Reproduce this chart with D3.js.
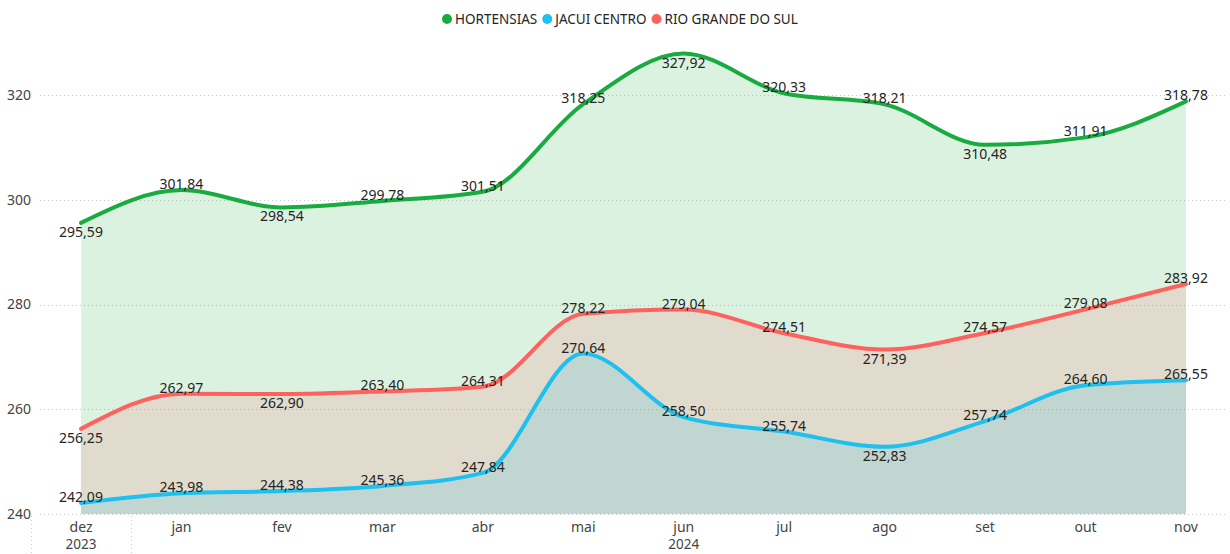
<!DOCTYPE html>
<html>
<head>
<meta charset="utf-8">
<script src="https://cdn.jsdelivr.net/npm/d3@7"></script>
<style>
    body { margin: 0; background: #fff; }
    svg { font-family: "Noto Sans", "Open Sans", sans-serif; }
</style>
</head>
<body>
<div id="chart"></div>
<script>
// months on the x axis
var months = ["dez", "jan", "fev", "mar", "abr", "mai", "jun", "jul", "ago", "set", "out", "nov"];
var years = [{ label: "2023", from: "dez", to: "dez" }, { label: "2024", from: "jan", to: "nov" }];

var hortensias = [295.59, 301.84, 298.54, 299.78, 301.51, 318.25, 327.92, 320.33, 318.21, 310.48, 311.91, 318.78];
var jacuiCentro = [242.09, 243.98, 244.38, 245.36, 247.84, 270.64, 258.50, 255.74, 252.83, 257.74, 264.60, 265.55];
var rioGrande = [256.25, 262.97, 262.90, 263.40, 264.31, 278.22, 279.04, 274.51, 271.39, 274.57, 279.08, 283.92];

var yTicks = [240, 260, 280, 300, 320];

// where each data label sits (1 = above the line, -1 = below)
var hortensiasSide = [-1, 1, -1, 1, 1, 1, -1, 1, 1, -1, 1, 1];
var jacuiSide = [1, 1, 1, 1, 1, 1, 1, 1, -1, 1, 1, 1];
var rioSide = [-1, 1, -1, 1, 1, 1, 1, 1, -1, 1, 1, 1];

var series = [
    { name: "HORTENSIAS", values: hortensias, side: hortensiasSide, color: "#1AAB40" },
    { name: "JACUI CENTRO", values: jacuiCentro, side: jacuiSide, color: "#1DC0EF" },
    { name: "RIO GRANDE DO SUL", values: rioGrande, side: rioSide, color: "#FD625E" }
];

var width = 1230,
    height = 554;

var svg = d3.select("#chart")
    .append("svg")
    .attr("width", width)
    .attr("height", height);

var x = d3.scalePoint().domain(months).range([81, 1186]);
var y = d3.scaleLinear().domain([240, 320]).range([514, 95]);

var fmt = d3.formatLocale({ decimal: ",", thousands: ".", grouping: [3], currency: ["R$", ""] }).format(".2f");

// gridlines + y labels
var yAxis = svg.append("g");
yAxis.selectAll("line")
    .data(yTicks)
    .enter()
    .append("line")
    .attr("x1", 40)
    .attr("x2", 1226)
    .attr("y1", function (d) { return Math.round(y(d)) + 0.5 })
    .attr("y2", function (d) { return Math.round(y(d)) + 0.5 })
    .attr("stroke", "#c8c8c8")
    .attr("stroke-dasharray", "1,3");
yAxis.selectAll("text")
    .data(yTicks)
    .enter()
    .append("text")
    .attr("x", 31)
    .attr("y", function (d) { return y(d) })
    .attr("dy", "0.35em")
    .attr("text-anchor", "end")
    .attr("fill", "#444")
    .style("font-size", "14px")
    .text(function (d) { return d });

// x axis labels
var xAxis = svg.append("g");
xAxis.selectAll("text")
    .data(months)
    .enter()
    .append("text")
    .attr("x", function (d) { return x(d) })
    .attr("y", 532)
    .attr("text-anchor", "middle")
    .attr("fill", "#444")
    .style("font-size", "14px")
    .text(function (d) { return d });

xAxis.selectAll(".year")
    .data(years)
    .enter()
    .append("text")
    .attr("class", "year")
    .attr("x", function (d) { return (x(d.from) + x(d.to)) / 2 })
    .attr("y", 549)
    .attr("text-anchor", "middle")
    .attr("fill", "#444")
    .style("font-size", "13.5px")
    .text(function (d) { return d.label });

// dotted separators between years
var step = x.step();
xAxis.selectAll(".sep")
    .data([x("dez") - step / 2, x("dez") + step / 2])
    .enter()
    .append("line")
    .attr("x1", function (d) { return Math.round(d) + 0.5 })
    .attr("x2", function (d) { return Math.round(d) + 0.5 })
    .attr("y1", 516)
    .attr("y2", height)
    .attr("stroke", "#c8c8c8")
    .attr("stroke-dasharray", "1,3");

var area = d3.area()
    .x(function (d, i) { return x(months[i]) })
    .y0(y(240))
    .y1(function (d) { return y(d) })
    .curve(d3.curveMonotoneX);

var line = d3.line()
    .x(function (d, i) { return x(months[i]) })
    .y(function (d) { return y(d) })
    .curve(d3.curveMonotoneX);

// areas: highest first
var order = [series[0], series[2], series[1]];
svg.selectAll(".area")
    .data(order)
    .enter()
    .append("path")
    .attr("class", "area")
    .attr("d", function (s) { return area(s.values) })
    .attr("fill", function (s) { return s.color })
    .attr("fill-opacity", 0.155);

svg.selectAll(".line")
    .data(order)
    .enter()
    .append("path")
    .attr("class", "line")
    .attr("d", function (s) { return line(s.values) })
    .attr("fill", "none")
    .attr("stroke", function (s) { return s.color })
    .attr("stroke-width", 4)
    .attr("stroke-linecap", "round");

// data labels
series.forEach(function (s) {
    svg.append("g")
        .selectAll("text")
        .data(s.values)
        .enter()
        .append("text")
        .attr("x", function (d, i) { return x(months[i]) })
        .attr("y", function (d, i) { return s.side[i] > 0 ? y(d) - 1 : y(d) + 14 })
        .attr("text-anchor", "middle")
        .attr("fill", "#252423")
        .style("font-size", "14px")
        .text(function (d) { return fmt(d) });
});

// legend
var legend = svg.append("g");
var lx = 447;
series.forEach(function (s) {
    legend.append("circle")
        .attr("cx", lx)
        .attr("cy", 19)
        .attr("r", 5)
        .attr("fill", s.color);
    var t = legend.append("text")
        .attr("x", lx + 8)
        .attr("y", 19)
        .attr("dy", "0.35em")
        .attr("fill", "#252423")
        .style("font-size", "13.5px")
        .text(s.name);
    lx += t.node().getComputedTextLength() + 18;
});
</script>
</body>
</html>
